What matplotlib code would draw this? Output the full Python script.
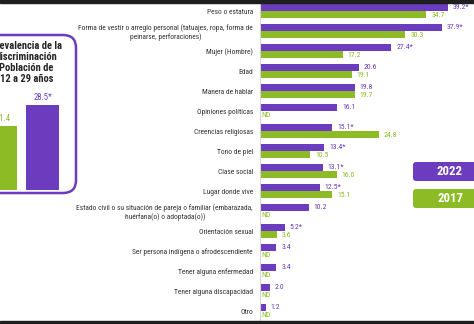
import matplotlib

matplotlib.use("Agg")
import matplotlib.pyplot as plt
import numpy as np
from matplotlib import font_manager
from matplotlib.patches import FancyBboxPatch, Rectangle

# pick a narrow face if the box has one
_names = {f.name for f in font_manager.fontManager.ttflist}
_narrow = [n for n in ("Liberation Sans Narrow", "Arial Narrow", "Roboto Condensed",
                       "Open Sans Condensed", "DejaVu Sans Condensed") if n in _names]
if _narrow:
    plt.rcParams["font.family"] = [_narrow[0], "DejaVu Sans"]
    FS = 5.6
else:
    plt.rcParams["font.family"] = ["DejaVu Sans"]
    plt.rcParams["font.stretch"] = "condensed"
    FS = 4.6

# --- data ---
categories = [
    "Peso o estatura",
    "Forma de vestir o arreglo personal (tatuajes, ropa, forma de\npeinarse, perforaciones)",
    "Mujer (Hombre)",
    "Edad",
    "Manera de hablar",
    "Opiniones políticas",
    "Creencias religiosas",
    "Tono de piel",
    "Clase social",
    "Lugar donde vive",
    "Estado civil o su situación de pareja o familiar (embarazada,\nhuérfana(o) o adoptada(o))",
    "Orientación sexual",
    "Ser persona indígena o afrodescendiente",
    "Tener alguna enfermedad",
    "Tener alguna discapacidad",
    "Otro",
]
values_2022 = [39.2, 37.9, 27.4, 20.6, 19.8, 16.1, 15.1, 13.4, 13.1, 12.5, 10.2, 5.2, 3.4, 3.4, 2.0, 1.2]
stars_2022 = [True, True, True, False, False, False, True, True, True, True, False, True, False, False, False, False]
values_2017 = [34.7, 30.3, 17.2, 19.1, 19.7, None, 24.8, 10.5, 16.0, 15.1, None, 3.6, None, None, None, None]

prevalence_values = [21.4, 28.5]  # 2017, 2022
prevalence_stars = [False, True]
prevalence_title = "Prevalencia de la\ndiscriminación\nPoblación de\n12 a 29 años"

legend_years = ["2022", "2017"]

PURPLE = "#6b3cbd"
GREEN = "#8cbb26"
TEXT = "#333333"

W, H = 474, 324


def px_box(x0, y0, x1, y1):
    """Pixel box (top-left origin) -> figure fraction rect."""
    return [x0 / W, 1 - y1 / H, (x1 - x0) / W, (y1 - y0) / H]


fig = plt.figure(figsize=(W / 100, H / 100), dpi=100)
fig.patch.set_facecolor("white")

# --- main horizontal bar chart ---
ax = fig.add_axes(px_box(260, 0, 474, 324))
y = np.arange(len(categories))
off, bh = 0.18, 0.34
ax.barh(y - off, values_2022, height=bh, color=PURPLE)
have_2017 = [i for i, v in enumerate(values_2017) if v is not None]
ax.barh(y[have_2017] + off, [values_2017[i] for i in have_2017], height=bh, color=GREEN)

ax.set_xlim(0, 44.6)
ax.set_ylim(15.65, -0.55)
for side in ("top", "right", "bottom"):
    ax.spines[side].set_visible(False)
ax.spines["left"].set_color("#d4d4d4")
ax.spines["left"].set_linewidth(0.8)
ax.set_xticks([])
ax.set_yticks(y)
ax.set_yticklabels(categories, fontsize=FS * 0.965, color=TEXT)
for t in ax.get_yticklabels():
    t.set_multialignment("center")
ax.tick_params(axis="y", length=0, pad=5)

lab_kw = dict(textcoords="offset points", va="center", ha="left", fontsize=FS)
for i, (v, s) in enumerate(zip(values_2022, stars_2022)):
    ax.annotate(f"{v:.1f}" + ("*" if s else ""), xy=(v, i - off), xytext=(3.5, 0), color=PURPLE, **lab_kw)
for i, v in enumerate(values_2017):
    if v is None:
        ax.annotate("ND", xy=(0, i + off + 0.03), xytext=(1.2, 0), color=GREEN, **lab_kw)
    else:
        ax.annotate(f"{v:.1f}", xy=(v, i + off), xytext=(3.5, 0), color=GREEN, **lab_kw)

# --- left panel: overall prevalence ---
lax = fig.add_axes(px_box(0, 100, 76, 190))
lax.bar([0, 1], prevalence_values, width=33 / 42, color=[GREEN, PURPLE])
lax.set_xlim(-0.5 / 42, 75.5 / 42)
lax.set_ylim(0, 90 / 2.98)
lax.axis("off")
for i, (v, s, c) in enumerate(zip(prevalence_values, prevalence_stars, [GREEN, PURPLE])):
    lax.annotate(f"{v:.1f}" + ("*" if s else ""), xy=(i, v), xytext=(1.5 if i == 0 else 0, 2.5),
                 textcoords="offset points", ha="center", va="bottom", color=c, fontsize=FS + 0.6)

# --- decorations in pixel space ---
deco = fig.add_axes([0, 0, 1, 1])
deco.set_xlim(0, W)
deco.set_ylim(H, 0)
deco.axis("off")
deco.patch.set_alpha(0)

deco.add_patch(FancyBboxPatch((-30, 35), 106, 158, boxstyle="round,pad=0,rounding_size=13",
                              fill=False, ec=PURPLE, lw=1.8))
deco.text(26.5, 62.5, prevalence_title, ha="center", va="center", fontsize=FS + 2.0, fontweight="bold",
          color="#262626", linespacing=1.1)

for k, (year, col) in enumerate(zip(legend_years, [PURPLE, GREEN])):
    top = 162 + k * 27
    deco.add_patch(FancyBboxPatch((413, top), 70, 19, boxstyle="round,pad=0,rounding_size=3",
                                  fc=col, ec="none"))
    deco.text(450, top + 9.5, year, ha="center", va="center", color="white",
              fontsize=FS + 3.6, fontweight="bold")

deco.add_patch(Rectangle((0, 0), W, 2.5, color="#1e1e1e"))
deco.add_patch(Rectangle((0, 321), W, 3, color="#1e1e1e"))

fig.savefig("out.png", dpi=100)
